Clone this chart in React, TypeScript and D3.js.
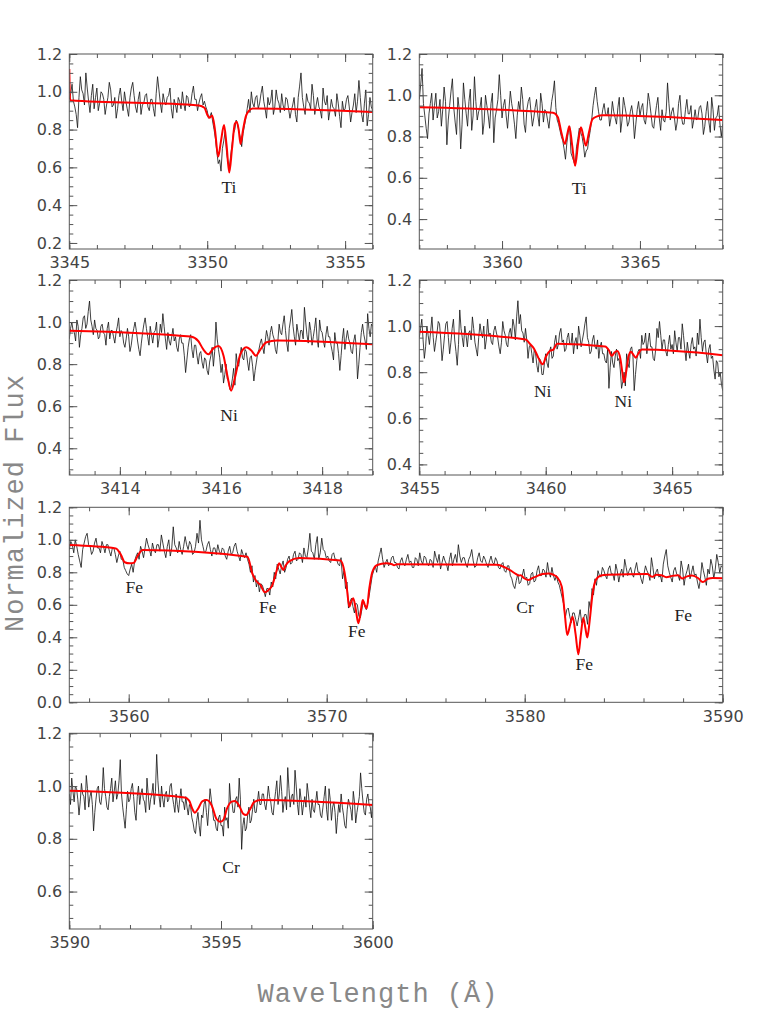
import React, { useRef, useEffect } from "react";
import * as d3 from "d3";

// observed spectra, flux x 100, sampled at a fixed step from the start wavelength
const ti3350Start = 3345;
const ti3350Step = 0.05;
const ti3350Flux = [
  96, 99, 104, 95, 92, 88, 81, 97, 108, 101, 99, 93, 110, 102, 95, 89, 98, 104, 91, 97,
  102, 90, 94, 100, 99, 96, 88, 93, 97, 105, 101, 92, 93, 97, 86, 91, 98, 102, 95, 90,
  100, 95, 91, 87, 97, 102, 105, 98, 92, 89, 96, 100, 88, 93, 94, 98, 99, 92, 90, 96,
  96, 91, 87, 99, 108, 101, 94, 89, 99, 95, 93, 97, 98, 102, 91, 86, 96, 93, 89, 97,
  95, 91, 100, 94, 90, 98, 97, 92, 93, 99, 103, 96, 96, 90, 94, 97, 99, 93, 95, 92,
  90, 86, 87, 89, 84, 80, 75, 68, 62, 64, 58, 70, 74, 79, 68, 63, 60, 66, 72, 78,
  80, 85, 83, 79, 76, 71, 78, 82, 86, 91, 96, 89, 100, 94, 92, 97, 98, 91, 94, 99,
  103, 95, 91, 86, 97, 93, 95, 101, 88, 92, 101, 96, 94, 89, 99, 93, 90, 97, 96, 91,
  86, 90, 93, 97, 88, 84, 97, 103, 110, 97, 92, 88, 99, 95, 94, 91, 104, 98, 88, 93,
  97, 92, 90, 86, 102, 95, 93, 98, 85, 90, 96, 92, 91, 87, 99, 94, 87, 81, 95, 90,
  91, 96, 98, 92, 84, 89, 93, 99, 89, 95, 106, 97, 88, 84, 94, 101, 82, 88, 97, 92,
  90,
];
const ti3350Model: [number, number][] = [
  [3345.0, 1.12], [3345.03, 0.955], [3349.7, 0.928], [3349.9, 0.915], [3350.0, 0.88],
  [3350.08, 0.862], [3350.18, 0.874], [3350.28, 0.8], [3350.4, 0.657], [3350.5, 0.74],
  [3350.61, 0.824], [3350.7, 0.72], [3350.8, 0.573], [3350.9, 0.7], [3351.0, 0.83],
  [3351.07, 0.842], [3351.14, 0.8], [3351.21, 0.724], [3351.3, 0.8], [3351.4, 0.87],
  [3351.5, 0.898], [3351.65, 0.912], [3356.0, 0.893],
];
const ti3350XTicks = [3345, 3350, 3355];
const ti3350YTicks = [0.2, 0.4, 0.6, 0.8, 1.0, 1.2];
const ti3350Labels: [string, number, number][] = [["Ti", 3350.79, 0.462]];

const ti3362Start = 3357;
const ti3362Step = 0.05;
const ti3362Flux = [
  98, 105, 113, 96, 90, 84, 79, 91, 96, 101, 88, 95, 101, 89, 92, 98, 85, 93, 104, 97,
  76, 88, 95, 102, 108, 94, 87, 81, 99, 93, 74, 86, 106, 98, 91, 85, 97, 103, 83, 90,
  109, 97, 88, 92, 94, 99, 81, 87, 100, 95, 90, 84, 96, 101, 77, 89, 93, 98, 110, 100,
  89, 95, 98, 90, 84, 93, 102, 96, 92, 86, 79, 90, 97, 93, 104, 98, 86, 82, 93, 97,
  99, 92, 85, 89, 94, 98, 90, 85, 101, 96, 87, 93, 92, 88, 84, 91, 97, 101, 107, 94,
  88, 86, 83, 80, 78, 74, 69, 77, 82, 85, 72, 70, 68, 66, 75, 79, 84, 82, 80, 76,
  70, 73, 74, 79, 83, 88, 95, 100, 104, 97, 92, 88, 88, 93, 96, 91, 90, 94, 85, 89,
  97, 92, 89, 86, 94, 99, 82, 88, 99, 95, 91, 85, 87, 92, 95, 90, 79, 86, 93, 97,
  90, 94, 96, 88, 86, 92, 101, 97, 91, 85, 84, 90, 95, 99, 89, 83, 93, 88, 87, 92,
  106, 96, 88, 92, 94, 89, 83, 87, 96, 100, 90, 86, 86, 93, 98, 91, 91, 95, 84, 88,
  93, 88, 89, 94, 95, 91, 81, 85, 92, 97, 87, 82, 99, 93, 83, 89, 90, 95, 86, 80,
  86,
];
const ti3362Model: [number, number][] = [
  [3357.0, 0.942], [3361.85, 0.915], [3362.02, 0.895], [3362.15, 0.82], [3362.28, 0.764],
  [3362.37, 0.815], [3362.44, 0.85], [3362.54, 0.76], [3362.65, 0.658], [3362.76, 0.77],
  [3362.86, 0.845], [3362.95, 0.8], [3363.04, 0.756], [3363.15, 0.82], [3363.28, 0.885],
  [3363.45, 0.898], [3363.65, 0.903], [3368.0, 0.88],
];
const ti3362XTicks = [3360, 3365];
const ti3362YTicks = [0.4, 0.6, 0.8, 1.0, 1.2];
const ti3362Labels: [string, number, number][] = [["Ti", 3362.8, 0.522]];

const ni3416Start = 3413;
const ni3416Step = 0.025;
const ni3416Flux = [
  92, 97, 100, 96, 95, 91, 101, 98, 88, 94, 97, 102, 103, 97, 99, 105, 110, 101, 98, 94,
  101, 97, 96, 92, 93, 98, 99, 95, 94, 89, 97, 100, 92, 96, 96, 93, 90, 95, 98, 102,
  93, 96, 95, 90, 88, 92, 97, 93, 86, 89, 94, 97, 100, 96, 91, 87, 84, 90, 95, 99,
  102, 97, 93, 89, 98, 94, 90, 95, 96, 100, 88, 92, 99, 95, 104, 98, 92, 87, 95, 91,
  89, 93, 97, 91, 93, 88, 86, 92, 94, 90, 90, 84, 76, 82, 88, 92, 94, 87, 83, 89,
  89, 84, 80, 85, 86, 81, 78, 83, 82, 77, 75, 81, 84, 88, 79, 86, 100, 92, 87, 83,
  76, 80, 71, 75, 80, 73, 72, 68, 69, 73, 78, 70, 85, 80, 79, 84, 88, 83, 82, 87,
  86, 81, 77, 83, 84, 79, 72, 77, 81, 85, 87, 90, 92, 88, 85, 91, 96, 93, 89, 95,
  98, 94, 92, 87, 85, 91, 99, 95, 94, 99, 103, 96, 90, 86, 97, 101, 106, 98, 93, 89,
  99, 95, 91, 96, 96, 92, 107, 100, 94, 90, 100, 96, 89, 93, 97, 102, 92, 88, 101, 96,
  95, 91, 88, 94, 98, 93, 93, 89, 86, 82, 95, 90, 90, 85, 77, 84, 92, 97, 87, 92,
  96, 92, 90, 86, 85, 91, 94, 88, 73, 80, 88, 95, 99, 94, 91, 87, 104, 97, 93, 99,
  98,
];
const ni3416Model: [number, number][] = [
  [3413.0, 0.959], [3415.4, 0.931], [3415.55, 0.91], [3415.65, 0.87], [3415.75, 0.847],
  [3415.85, 0.875], [3415.95, 0.886], [3416.05, 0.84], [3416.13, 0.74], [3416.2, 0.674],
  [3416.28, 0.74], [3416.38, 0.845], [3416.5, 0.88], [3416.6, 0.865], [3416.69, 0.84],
  [3416.78, 0.87], [3416.9, 0.904], [3417.1, 0.912], [3419.0, 0.894],
];
const ni3416XTicks = [3414, 3416, 3418];
const ni3416YTicks = [0.4, 0.6, 0.8, 1.0, 1.2];
const ni3416Labels: [string, number, number][] = [["Ni", 3416.16, 0.532]];

const ni3460Start = 3455;
const ni3460Step = 0.05;
const ni3460Flux = [
  95, 99, 103, 94, 86, 91, 100, 96, 92, 98, 104, 95, 89, 93, 97, 102, 101, 94, 85, 90,
  96, 101, 102, 95, 88, 93, 99, 103, 94, 89, 83, 92, 107, 99, 95, 91, 100, 96, 91, 97,
  98, 94, 104, 99, 93, 90, 87, 95, 101, 97, 95, 100, 90, 94, 103, 96, 97, 93, 92, 98,
  100, 97, 95, 91, 88, 93, 102, 98, 96, 92, 91, 97, 99, 95, 103, 100, 94, 104, 111, 101,
  105, 98, 97, 93, 99, 94, 86, 91, 92, 88, 84, 90, 88, 83, 80, 86, 85, 79, 79, 84,
  88, 84, 82, 89, 91, 86, 87, 93, 96, 90, 92, 97, 99, 93, 94, 89, 90, 95, 97, 92,
  92, 97, 88, 93, 95, 90, 100, 96, 91, 94, 97, 101, 104, 95, 93, 88, 89, 94, 96, 91,
  90, 94, 86, 91, 93, 88, 88, 85, 84, 90, 73, 82, 89, 84, 82, 87, 90, 85, 86, 81,
  73, 76, 80, 74, 88, 84, 82, 90, 91, 87, 72, 79, 85, 89, 90, 86, 96, 92, 93, 97,
  88, 93, 97, 91, 91, 86, 85, 90, 99, 95, 102, 96, 90, 94, 94, 89, 87, 92, 96, 90,
  92, 88, 98, 93, 89, 95, 95, 90, 101, 96, 90, 85, 93, 89, 86, 92, 95, 90, 91, 87,
  97, 92, 103, 95, 89, 93, 94, 88, 84, 90, 92, 86, 87, 81, 77, 85, 84, 78, 80, 75,
  72,
];
const ni3460Model: [number, number][] = [
  [3455.0, 0.976], [3459.2, 0.942], [3459.4, 0.92], [3459.55, 0.9], [3459.72, 0.86],
  [3459.88, 0.834], [3460.02, 0.87], [3460.17, 0.893], [3460.3, 0.898], [3460.45, 0.923],
  [3462.35, 0.912], [3462.5, 0.895], [3462.61, 0.871], [3462.72, 0.885], [3462.83, 0.892],
  [3462.95, 0.86], [3463.03, 0.8], [3463.1, 0.756], [3463.18, 0.8], [3463.28, 0.87],
  [3463.37, 0.889], [3463.47, 0.875], [3463.56, 0.863], [3463.66, 0.88], [3463.8, 0.898],
  [3467.0, 0.874],
];
const ni3460XTicks = [3455, 3460, 3465];
const ni3460YTicks = [0.4, 0.6, 0.8, 1.0, 1.2];
const ni3460Labels: [string, number, number][] = [
  ["Ni", 3459.88, 0.691],
  ["Ni", 3463.07, 0.648],
];

const fe3570Start = 3557;
const fe3570Step = 0.075;
const fe3570Flux = [
  94, 99, 97, 92, 100, 96, 91, 87, 83, 94, 98, 102, 104, 97, 96, 91, 93, 98, 101, 95,
  95, 92, 99, 96, 92, 97, 97, 93, 90, 95, 95, 91, 86, 90, 93, 88, 88, 83, 81, 79,
  78, 82, 85, 80, 87, 90, 92, 88, 96, 93, 89, 95, 101, 97, 94, 90, 98, 94, 92, 97,
  97, 93, 103, 98, 93, 89, 96, 100, 90, 95, 108, 97, 95, 92, 99, 94, 91, 96, 102, 97,
  94, 99, 97, 91, 92, 96, 104, 98, 112, 100, 96, 92, 93, 97, 99, 94, 90, 95, 95, 91,
  97, 93, 91, 95, 94, 90, 88, 93, 96, 91, 92, 96, 98, 93, 90, 87, 94, 91, 89, 92,
  88, 85, 80, 84, 74, 78, 71, 75, 68, 73, 72, 69, 65, 70, 70, 66, 74, 71, 80, 76,
  85, 82, 79, 84, 87, 80, 83, 88, 90, 85, 86, 91, 93, 87, 88, 92, 91, 86, 95, 90,
  89, 95, 104, 93, 92, 88, 97, 102, 88, 92, 101, 94, 93, 89, 90, 87, 86, 91, 92, 88,
  88, 85, 84, 89, 76, 81, 70, 74, 58, 62, 64, 59, 55, 61, 60, 53, 52, 57, 63, 59,
  57, 61, 66, 72, 78, 81, 84, 80, 87, 91, 95, 88, 83, 86, 88, 84, 85, 89, 90, 86,
  86, 83, 82, 87, 89, 85, 84, 88, 91, 86, 87, 83, 83, 89, 88, 84, 92, 87, 85, 90,
  89, 85, 84, 88, 87, 83, 93, 89, 86, 91, 82, 86, 90, 87, 85, 81, 88, 92, 84, 88,
  91, 86, 97, 90, 86, 89, 89, 85, 83, 88, 90, 94, 87, 83, 84, 89, 92, 87, 86, 90,
  88, 85, 83, 87, 90, 86, 85, 89, 87, 83, 82, 85, 86, 81, 80, 84, 84, 78, 76, 72,
  70, 75, 79, 73, 74, 78, 82, 76, 77, 72, 73, 79, 80, 74, 75, 81, 84, 78, 78, 82,
  81, 77, 86, 80, 77, 83, 78, 75, 78, 74, 72, 68, 64, 60, 52, 57, 58, 53, 49, 55,
  55, 51, 47, 52, 57, 49, 50, 54, 54, 48, 62, 57, 70, 66, 76, 72, 81, 78, 77, 83,
  81, 78, 76, 82, 84, 79, 79, 75, 85, 81, 74, 79, 82, 77, 88, 83, 78, 81, 83, 79,
  77, 82, 86, 80, 80, 76, 73, 79, 84, 81, 79, 75, 89, 83, 76, 80, 82, 77, 78, 74,
  85, 90, 94, 84, 80, 77, 74, 81, 83, 79, 78, 75, 87, 82, 72, 78, 81, 85, 76, 80,
  84, 78, 79, 74, 70, 76, 86, 81, 77, 72, 82, 79, 88, 84, 76, 82, 91, 86, 80, 84,
  83,
];
const fe3570Model: [number, number][] = [
  [3557.0, 0.968], [3559.35, 0.947], [3559.6, 0.91], [3559.8, 0.862], [3560.05, 0.855],
  [3560.25, 0.858], [3560.45, 0.9], [3560.7, 0.937], [3566.0, 0.896], [3566.25, 0.79],
  [3566.45, 0.745], [3566.65, 0.722], [3566.88, 0.677], [3567.05, 0.69], [3567.25, 0.72],
  [3567.45, 0.8], [3567.6, 0.855], [3567.72, 0.83], [3567.82, 0.814], [3567.92, 0.84],
  [3568.1, 0.867], [3568.6, 0.888], [3570.7, 0.872], [3570.9, 0.8], [3571.02, 0.7],
  [3571.14, 0.588], [3571.24, 0.62], [3571.34, 0.64], [3571.47, 0.57], [3571.6, 0.486],
  [3571.72, 0.56], [3571.82, 0.63], [3571.92, 0.6], [3572.02, 0.578], [3572.15, 0.7],
  [3572.3, 0.8], [3572.55, 0.845], [3573.0, 0.855], [3573.3, 0.85], [3573.4, 0.843],
  [3573.55, 0.85], [3578.6, 0.846], [3579.0, 0.83], [3579.3, 0.81], [3579.55, 0.79],
  [3579.7, 0.78], [3579.8, 0.782], [3579.95, 0.765], [3580.18, 0.753], [3580.4, 0.765],
  [3580.6, 0.775], [3580.9, 0.79], [3581.2, 0.793], [3581.45, 0.785], [3581.62, 0.772],
  [3581.87, 0.712], [3582.02, 0.55], [3582.15, 0.414], [3582.3, 0.48], [3582.42, 0.527],
  [3582.57, 0.42], [3582.71, 0.295], [3582.84, 0.42], [3582.96, 0.52], [3583.06, 0.46],
  [3583.16, 0.398], [3583.28, 0.5], [3583.42, 0.66], [3583.6, 0.755], [3583.85, 0.78],
  [3584.2, 0.785], [3586.2, 0.79], [3586.45, 0.772], [3586.65, 0.785], [3586.9, 0.782],
  [3587.15, 0.77], [3587.45, 0.778], [3587.75, 0.782], [3587.95, 0.762], [3588.2, 0.775],
  [3588.45, 0.78], [3588.75, 0.765], [3589.0, 0.74], [3589.25, 0.76], [3589.5, 0.765],
  [3590.0, 0.763],
];
const fe3570XTicks = [3560, 3570, 3580, 3590];
const fe3570YTicks = [0.0, 0.2, 0.4, 0.6, 0.8, 1.0, 1.2];
const fe3570Labels: [string, number, number][] = [
  ["Fe", 3560.28, 0.674],
  ["Fe", 3567.02, 0.551],
  ["Fe", 3571.52, 0.404],
  ["Cr", 3580.02, 0.551],
  ["Fe", 3583.01, 0.199],
  ["Fe", 3588.01, 0.502],
];

const cr3595Start = 3590;
const cr3595Step = 0.04;
const cr3595Flux = [
  97, 93, 103, 98, 94, 100, 99, 95, 89, 94, 101, 97, 96, 91, 104, 99, 92, 96, 98, 93,
  83, 90, 95, 99, 100, 94, 93, 97, 107, 99, 96, 92, 91, 96, 99, 103, 94, 98, 102, 95,
  97, 102, 110, 97, 92, 88, 84, 91, 98, 94, 95, 99, 101, 96, 90, 87, 96, 100, 93, 97,
  99, 95, 94, 90, 103, 97, 91, 95, 97, 101, 93, 98, 112, 102, 96, 92, 100, 95, 92, 97,
  98, 94, 95, 100, 101, 96, 93, 90, 97, 93, 90, 95, 99, 94, 94, 91, 96, 92, 89, 93,
  92, 88, 86, 83, 82, 87, 90, 85, 81, 89, 88, 93, 95, 90, 85, 92, 99, 95, 91, 87,
  87, 84, 83, 88, 89, 85, 85, 81, 92, 87, 88, 84, 101, 94, 94, 90, 90, 95, 96, 92,
  103, 95, 76, 85, 88, 83, 84, 89, 92, 86, 87, 91, 95, 90, 90, 94, 98, 93, 93, 97,
  97, 93, 91, 95, 100, 96, 94, 90, 89, 94, 98, 102, 93, 97, 104, 98, 90, 94, 96, 91,
  107, 99, 92, 96, 97, 93, 106, 100, 93, 89, 99, 95, 89, 93, 96, 92, 101, 97, 92, 88,
  95, 91, 90, 94, 98, 93, 93, 89, 88, 92, 96, 100, 91, 87, 99, 95, 87, 92, 94, 90,
  82, 88, 93, 90, 97, 92, 89, 85, 84, 91, 95, 93, 91, 87, 98, 94, 86, 90, 93, 96,
  105, 99, 94, 90, 89, 95, 97, 93, 92, 88, 95,
];
const cr3595Model: [number, number][] = [
  [3590.0, 0.982], [3593.8, 0.957], [3593.95, 0.945], [3594.05, 0.915], [3594.14, 0.899],
  [3594.25, 0.915], [3594.38, 0.942], [3594.53, 0.947], [3594.7, 0.925], [3594.85, 0.875],
  [3594.97, 0.865], [3595.08, 0.872], [3595.2, 0.915], [3595.35, 0.941], [3595.46, 0.943],
  [3595.6, 0.925], [3595.73, 0.895], [3595.83, 0.89], [3595.95, 0.91], [3596.1, 0.94],
  [3596.3, 0.947], [3600.0, 0.928],
];
const cr3595XTicks = [3590, 3595, 3600];
const cr3595YTicks = [0.6, 0.8, 1.0, 1.2];
const cr3595Labels: [string, number, number][] = [["Cr", 3595.33, 0.67]];

type PanelSpec = {
  x0: number;
  x1: number;
  y0: number;
  xTicks: number[];
  xMinor: number;
  yTicks: number[];
  start: number;
  step: number;
  flux: number[];
  model: [number, number][];
  labels: [string, number, number][];
  box: [number, number, number, number]; // left, top, right, bottom
};

const panels: PanelSpec[] = [
  { x0: 3345, x1: 3356, y0: 0.168, xTicks: ti3350XTicks, xMinor: 1, yTicks: ti3350YTicks,
    start: ti3350Start, step: ti3350Step, flux: ti3350Flux, model: ti3350Model, labels: ti3350Labels,
    box: [69.3, 54, 372.7, 249] },
  { x0: 3357, x1: 3368, y0: 0.255, xTicks: ti3362XTicks, xMinor: 1, yTicks: ti3362YTicks,
    start: ti3362Start, step: ti3362Step, flux: ti3362Flux, model: ti3362Model, labels: ti3362Labels,
    box: [419.3, 54, 722.7, 249] },
  { x0: 3413, x1: 3419, y0: 0.273, xTicks: ni3416XTicks, xMinor: 0.5, yTicks: ni3416YTicks,
    start: ni3416Start, step: ni3416Step, flux: ni3416Flux, model: ni3416Model, labels: ni3416Labels,
    box: [69.3, 280, 372.7, 475] },
  { x0: 3455, x1: 3467, y0: 0.354, xTicks: ni3460XTicks, xMinor: 1, yTicks: ni3460YTicks,
    start: ni3460Start, step: ni3460Step, flux: ni3460Flux, model: ni3460Model, labels: ni3460Labels,
    box: [419.3, 280, 722.7, 475] },
  { x0: 3557, x1: 3590, y0: 0, xTicks: fe3570XTicks, xMinor: 2, yTicks: fe3570YTicks,
    start: fe3570Start, step: fe3570Step, flux: fe3570Flux, model: fe3570Model, labels: fe3570Labels,
    box: [69.3, 507.3, 722.7, 702.3] },
  { x0: 3590, x1: 3600, y0: 0.458, xTicks: cr3595XTicks, xMinor: 1, yTicks: cr3595YTicks,
    start: cr3595Start, step: cr3595Step, flux: cr3595Flux, model: cr3595Model, labels: cr3595Labels,
    box: [69.3, 733.3, 372.7, 929] },
];

const AXIS = "#555";

function Panel({ p, id }: { p: PanelSpec; id: number }) {
  const gRef = useRef<SVGGElement>(null);

  useEffect(() => {
    const [left, top, right, bottom] = p.box;
    const w = right - left;
    const h = bottom - top;
    const x = d3.scaleLinear().domain([p.x0, p.x1]).range([0, w]);
    const y = d3.scaleLinear().domain([p.y0, 1.2]).range([h, 0]);

    const g = d3.select(gRef.current).attr("transform", `translate(${left},${top})`);
    g.selectAll("*").remove();

    const clipId = `clip-panel-${id}`;
    g.append("clipPath").attr("id", clipId).append("rect").attr("width", w).attr("height", h);
    const plot = g.append("g").attr("clip-path", `url(#${clipId})`);

    const obsLine = d3
      .line<number>()
      .x((_, i) => x(p.start + i * p.step))
      .y((v) => y(v / 100));
    plot.append("path").datum(p.flux).attr("d", obsLine)
      .attr("fill", "none").attr("stroke", "#111").attr("stroke-width", 0.8);

    const modelLine = d3
      .line<[number, number]>()
      .x((d) => x(d[0]))
      .y((d) => y(d[1]))
      .curve(d3.curveMonotoneX);
    plot.append("path").datum(p.model).attr("d", modelLine)
      .attr("fill", "none").attr("stroke", "#f00").attr("stroke-width", 2);

    // minor ticks every xMinor / 0.05
    const xMinor = d3.range(Math.ceil(p.x0 / p.xMinor - 1e-6) * p.xMinor, p.x1 + 1e-6, p.xMinor);
    const yMinor = d3.range(Math.ceil(p.y0 / 0.05 - 1e-6) * 0.05, 1.2 + 1e-6, 0.05);
    const blank = () => "";

    const axes: [any, string][] = [
      [d3.axisBottom(x).tickValues(p.xTicks).tickSize(-8).tickPadding(8).tickFormat(d3.format("d")), `translate(0,${h})`],
      [d3.axisBottom(x).tickValues(xMinor).tickSize(-4).tickFormat(blank), `translate(0,${h})`],
      [d3.axisTop(x).tickValues(p.xTicks).tickSize(-8).tickFormat(blank), "translate(0,0)"],
      [d3.axisTop(x).tickValues(xMinor).tickSize(-4).tickFormat(blank), "translate(0,0)"],
      [d3.axisLeft(y).tickValues(p.yTicks).tickSize(-8).tickPadding(7).tickFormat(d3.format(".1f")), "translate(0,0)"],
      [d3.axisLeft(y).tickValues(yMinor).tickSize(-4).tickFormat(blank), "translate(0,0)"],
      [d3.axisRight(y).tickValues(p.yTicks).tickSize(-8).tickFormat(blank), `translate(${w},0)`],
      [d3.axisRight(y).tickValues(yMinor).tickSize(-4).tickFormat(blank), `translate(${w},0)`],
    ];
    axes.forEach(([axis, tr]) => {
      const a = g.append("g").attr("transform", tr).call(axis);
      a.select(".domain").remove();
      a.selectAll("line").attr("stroke", AXIS);
      a.selectAll("text")
        .attr("font-family", "'DejaVu Sans', sans-serif")
        .attr("font-size", 16)
        .attr("fill", "#444");
      a.attr("font-family", null).attr("font-size", null);
    });

    g.append("rect").attr("width", w).attr("height", h)
      .attr("fill", "none").attr("stroke", AXIS).attr("stroke-width", 1);

    g.selectAll(".elem")
      .data(p.labels)
      .join("text")
      .attr("class", "elem")
      .attr("x", (d) => x(d[1]))
      .attr("y", (d) => y(d[2]))
      .attr("text-anchor", "middle")
      .attr("font-family", "'Liberation Serif', serif")
      .attr("font-size", 17.5)
      .attr("fill", "#222")
      .text((d) => d[0]);
  }, [p, id]);

  return <g ref={gRef} />;
}

export default function App() {
  return (
    <svg
      width={763}
      height={1016}
      style={{ position: "absolute", left: 0, top: 0, background: "#fff" }}
    >
      {panels.map((p, i) => (
        <Panel key={i} p={p} id={i} />
      ))}
      <text
        transform="translate(23,503) rotate(-90)"
        textAnchor="middle"
        fontFamily="'Liberation Mono', monospace"
        fontSize={27}
        letterSpacing={1}
        fill="#888"
      >
        Normalized Flux
      </text>
      <text
        x={378}
        y={1002}
        textAnchor="middle"
        fontFamily="'Liberation Mono', monospace"
        fontSize={27}
        letterSpacing={1}
        fill="#888"
      >
        Wavelength (Å)
      </text>
    </svg>
  );
}
